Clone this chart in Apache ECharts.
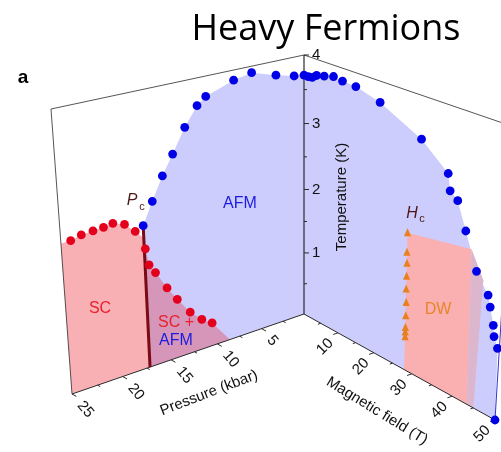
<!DOCTYPE html>
<html>
<head>
<meta charset="utf-8">
<script src="https://cdn.jsdelivr.net/npm/echarts@6/dist/echarts.min.js"></script>
<style>
  html, body { margin: 0; padding: 0; background: #fff; }
  #chart { width: 501px; height: 452px; }
</style>
</head>
<body>
<div id="chart"></div>
<script>
// ---- axis ticks ----
const pressureMajor = [25, 20, 15, 10, 5];
const pressureMinor = [22.5, 17.5, 12.5, 7.5, 2.5];
const fieldMajor = [10, 20, 30, 40, 50];
const fieldMinor = [5, 15, 25, 35, 45];
const tempMajor = [1, 2, 3, 4];
const tempMinor = [0.5, 1.5, 2.5, 3.5];

// ---- AFM transition vs pressure (kbar, K) ----
const afmPressure  = [17.2, 16.2, 15.1, 14.0, 12.7, 11.4, 10.5, 7.6, 5.7, 3.1, 1.1, 0];
const afmPressureT = [2.13, 2.44, 2.76, 3.03, 3.36, 3.62, 3.72, 3.86, 3.91, 3.80, 3.73, 3.71];

// ---- superconducting transition vs pressure (kbar, K) ----
const scPressure  = [24.1, 23.1, 22.0, 21.0, 20.1, 19.0, 18.0, 17.1, 16.8, 16.2, 15.1, 14.1, 12.8, 11.6, 10.5];
const scPressureT = [2.20, 2.24, 2.25, 2.26, 2.28, 2.22, 2.08, 1.79, 1.54, 1.40, 1.12, 0.90, 0.64, 0.47, 0.36];

// ---- AFM transition vs magnetic field (T, K) ----
const afmField  = [1.2, 2.3, 3.5, 5.6, 8.1, 10.5, 14.0, 20.2, 30.4, 36.8, 37.4, 39.2, 41.3, 44.1, 46.9, 47.5, 48.4, 48.7, 49.6, 50];
const afmFieldT = [3.71, 3.72, 3.77, 3.80, 3.84, 3.82, 3.81, 3.71, 3.42, 3.10, 2.88, 2.79, 2.43, 1.95, 1.70, 1.55, 1.32, 1.17, 1.03, 0];

// ---- Hc: onset of the DW phase (T, K) ----
const hcField = [27.8, 27.8, 27.9, 27.9, 27.9, 28.0, 28.0, 28.0, 28.0, 28.0];
const hcT     = [2.05, 1.77, 1.61, 1.42, 1.23, 1.03, 0.83, 0.65, 0.58, 0.51];

// ---- phase region outlines ----
const pcPressure = 17.2;          // critical pressure
const scEdgeT = 2.2;              // SC boundary at the far pressure edge
const scAtPc = 1.95;              // SC boundary where it meets Pc
const scEndPressure = 8.6;        // SC boundary reaching T = 0
const dwField  = [28.0, 27.8, 42.8, 43.5];
const dwT      = [0, 2.05, 2.22, 0];
const dwEdgeField = [43.5, 42.8, 45.7, 45.0];
const dwEdgeT     = [0, 2.22, 1.87, 0];

// ---- axis ranges ----
const P_MAX = 25, B_MAX = 50, T_MAX = 4;

// ---- wall geometry (corners of the two walls in the drawing plane) ----
const PRESSURE_WALL = [[304, 314], [72, 394], [51, 109], [304, 55]];
const FIELD_WALL    = [[304, 314], [495, 420], [513, 126.5], [304, 55]];

// projective map of the unit square onto a quadrilateral
function homography(q0, q1, q2, q3) {
  const sx = q0[0] - q1[0] + q2[0] - q3[0], sy = q0[1] - q1[1] + q2[1] - q3[1];
  const dx1 = q1[0] - q2[0], dx2 = q3[0] - q2[0], dy1 = q1[1] - q2[1], dy2 = q3[1] - q2[1];
  const det = dx1 * dy2 - dx2 * dy1;
  const g = (sx * dy2 - dx2 * sy) / det, h = (dx1 * sy - sx * dy1) / det;
  const a = q1[0] - q0[0] + g * q1[0], b = q3[0] - q0[0] + h * q3[0], c = q0[0];
  const d = q1[1] - q0[1] + g * q1[1], e = q3[1] - q0[1] + h * q3[1], f = q0[1];
  return (u, v) => { const w = g * u + h * v + 1; return [(a * u + b * v + c) / w, (d * u + e * v + f) / w]; };
}
const hP = homography(...PRESSURE_WALL);
const hB = homography(...FIELD_WALL);
const onPressureWall = (p, t) => hP(p / P_MAX, t / T_MAX);
const onFieldWall = (b, t) => hB(b / B_MAX, t / T_MAX);
const wallOf = w => (w === 'p' ? onPressureWall : onFieldWall);

const pairs = (xs, ys) => xs.map((x, i) => [x, ys[i]]);

const LAVENDER = '#cdcdfd', PINK = '#f9b0b4', MAUVE = '#d596b9';
const regions = [
  { wall: 'p', color: LAVENDER, points: [[pcPressure, 0], ...pairs(afmPressure, afmPressureT), [0, 0]] },
  { wall: 'b', color: LAVENDER, points: [[0, 0], [0, afmPressureT[afmPressureT.length - 1]], ...pairs(afmField, afmFieldT)] },
  { wall: 'p', color: PINK, points: [[P_MAX, 0], [P_MAX, scEdgeT], ...pairs(scPressure.slice(0, 7), scPressureT.slice(0, 7)), [pcPressure, scAtPc], [pcPressure, 0]] },
  { wall: 'p', color: MAUVE, points: [[pcPressure, 0], [pcPressure, scAtPc], ...pairs(scPressure.slice(7), scPressureT.slice(7)), [scEndPressure, 0]] },
  { wall: 'b', color: '#fab0b1', points: pairs(dwField, dwT) },
  { wall: 'b', color: '#dcb6cc', points: pairs(dwEdgeField, dwEdgeT) }
];

const FRAME = '#2a2a2a';
const segments = [
  { wall: 'p', from: [P_MAX, 0], to: [0, 0], color: FRAME, width: 1 },
  { wall: 'p', from: [P_MAX, 0], to: [P_MAX, T_MAX], color: FRAME, width: 0.8 },
  { wall: 'p', from: [P_MAX, T_MAX], to: [0, T_MAX], color: FRAME, width: 0.8 },
  { wall: 'p', from: [0, 0], to: [0, T_MAX], color: FRAME, width: 1.2 },
  { wall: 'b', from: [0, 0], to: [B_MAX, 0], color: FRAME, width: 1 },
  { wall: 'b', from: [0, T_MAX], to: [B_MAX, T_MAX], color: FRAME, width: 0.8 },
  { wall: 'b', from: [B_MAX, 0], to: [B_MAX, T_MAX], color: '#3434d8', width: 1 },
  { wall: 'p', from: [pcPressure, 0], to: [pcPressure, afmPressureT[0]], color: '#7a0a14', width: 3 }
];

// tick items: axis, value, major flag
const ticks = [
  ...pressureMajor.map(v => ({ axis: 'p', v, major: true })),
  ...pressureMinor.map(v => ({ axis: 'p', v, major: false })),
  ...fieldMajor.map(v => ({ axis: 'b', v, major: true })),
  ...fieldMinor.map(v => ({ axis: 'b', v, major: false })),
  ...tempMajor.map(v => ({ axis: 't', v, major: true })),
  ...tempMinor.map(v => ({ axis: 't', v, major: false }))
];

const FONT = '"Liberation Sans", Arial, sans-serif';

function unit(a, b) {
  const dx = b[0] - a[0], dy = b[1] - a[1], n = Math.hypot(dx, dy);
  return [dx / n, dy / n];
}

function dotSeries(name, xs, ys, wall, color) {
  return {
    name, type: 'custom', coordinateSystem: 'cartesian2d', z: 5,
    data: pairs(xs, ys),
    renderItem: (params, api) => {
      const c = api.coord(wallOf(wall)(api.value(0), api.value(1)));
      return { type: 'circle', shape: { cx: c[0], cy: c[1], r: 4.4 }, style: { fill: color }, silent: true };
    }
  };
}

function label(x, y, text, font, fill, rotation) {
  return {
    type: 'text', x, y, rotation: rotation || 0, z: 20, silent: true,
    style: { text, font, fill, align: 'center', verticalAlign: 'middle' }
  };
}

const option = {
  animation: false,
  grid: { left: 0, right: 0, top: 0, bottom: 0 },
  xAxis: { type: 'value', min: 0, max: 501, show: false },
  yAxis: { type: 'value', min: 0, max: 452, inverse: true, show: false },
  series: [
    {
      name: 'regions', type: 'custom', coordinateSystem: 'cartesian2d', z: 1,
      data: regions.map((_, i) => [i, 0]),
      renderItem: (params, api) => {
        const r = regions[params.dataIndex];
        const proj = wallOf(r.wall);
        return {
          type: 'polygon',
          shape: { points: r.points.map(([a, t]) => api.coord(proj(a, t))) },
          style: { fill: r.color }, silent: true
        };
      }
    },
    {
      name: 'frame', type: 'custom', coordinateSystem: 'cartesian2d', z: 3,
      data: segments.map((_, i) => [i, 0]),
      renderItem: (params, api) => {
        const s = segments[params.dataIndex];
        const proj = wallOf(s.wall);
        const a = api.coord(proj(...s.from)), b = api.coord(proj(...s.to));
        return {
          type: 'line', shape: { x1: a[0], y1: a[1], x2: b[0], y2: b[1] },
          style: { stroke: s.color, lineWidth: s.width }, silent: true
        };
      }
    },
    {
      name: 'ticks', type: 'custom', coordinateSystem: 'cartesian2d', z: 3,
      data: ticks.map((_, i) => [i, 0]),
      renderItem: (params, api) => {
        const tk = ticks[params.dataIndex];
        let base, dir;
        if (tk.axis === 'p') {
          base = api.coord(onPressureWall(tk.v, 0));
          dir = unit(api.coord(onFieldWall(0, 0)), api.coord(onFieldWall(1, 0)));
        } else if (tk.axis === 'b') {
          base = api.coord(onFieldWall(tk.v, 0));
          dir = unit(api.coord(onPressureWall(0, 0)), api.coord(onPressureWall(1, 0)));
        } else {
          base = api.coord(onPressureWall(0, tk.v));
          dir = [1, 0];
        }
        const len = tk.major ? 5 : 3;
        const children = [{
          type: 'line',
          shape: { x1: base[0], y1: base[1], x2: base[0] + dir[0] * len, y2: base[1] + dir[1] * len },
          style: { stroke: FRAME, lineWidth: 1 }
        }];
        if (tk.major) {
          let lab;
          if (tk.axis === 'p') {
            lab = { x: base[0] + 8, y: base[1] + 9, rotation: -50 * Math.PI / 180, align: 'left' };
          } else if (tk.axis === 'b') {
            lab = { x: base[0] - 7, y: base[1] + 8, rotation: 45 * Math.PI / 180, align: 'right' };
          } else {
            lab = { x: base[0] + 8, y: base[1], rotation: 0, align: 'left' };
          }
          children.push({
            type: 'text', x: lab.x, y: lab.y, rotation: lab.rotation,
            style: { text: String(tk.v), font: '15px ' + FONT, fill: '#111', align: lab.align, verticalAlign: 'middle' }
          });
        }
        return { type: 'group', children, silent: true };
      }
    },
    dotSeries('SC (pressure)', scPressure, scPressureT, 'p', '#e4001c'),
    dotSeries('AFM (pressure)', afmPressure, afmPressureT, 'p', '#0000e6'),
    dotSeries('AFM (field)', afmField, afmFieldT, 'b', '#0000e6'),
    {
      name: 'Hc', type: 'custom', coordinateSystem: 'cartesian2d', z: 5,
      data: pairs(hcField, hcT),
      renderItem: (params, api) => {
        const c = api.coord(onFieldWall(api.value(0), api.value(1)));
        return {
          type: 'polygon',
          shape: { points: [[c[0], c[1] - 4.5], [c[0] + 3.6, c[1] + 3.5], [c[0] - 3.6, c[1] + 3.5]] },
          style: { fill: '#e8801e' }, silent: true
        };
      }
    }
  ],
  graphic: [
    label(326, 30, 'Heavy Fermions', '36px "Open Sans", sans-serif', '#000'),
    label(23, 78, 'a', 'bold 19px ' + FONT, '#000'),
    label(342, 197, 'Temperature (K)', '15px ' + FONT, '#111', Math.PI / 2),
    label(209, 393, 'Pressure (kbar)', '15px ' + FONT, '#111', 21 * Math.PI / 180),
    label(377, 411, 'Magnetic field (T)', '15px ' + FONT, '#111', -31.5 * Math.PI / 180),
    label(240, 204, 'AFM', '16px ' + FONT, '#1c1ce0'),
    label(100, 309, 'SC', '16px ' + FONT, '#e8212c'),
    label(176, 323, 'SC +', '16px ' + FONT, '#e8212c'),
    label(176, 341, 'AFM', '16px ' + FONT, '#1c1ce0'),
    label(438, 310, 'DW', '16px ' + FONT, '#e8852a'),
    label(132, 201, 'P', 'italic 16px ' + FONT, '#4e1616'),
    label(142, 207, 'c', '11px ' + FONT, '#4e1616'),
    label(412, 214, 'H', 'italic 16px ' + FONT, '#4e1616'),
    label(422, 219, 'c', '11px ' + FONT, '#4e1616')
  ]
};

const chart = echarts.init(document.getElementById('chart'));
chart.setOption(option);
</script>
</body>
</html>
